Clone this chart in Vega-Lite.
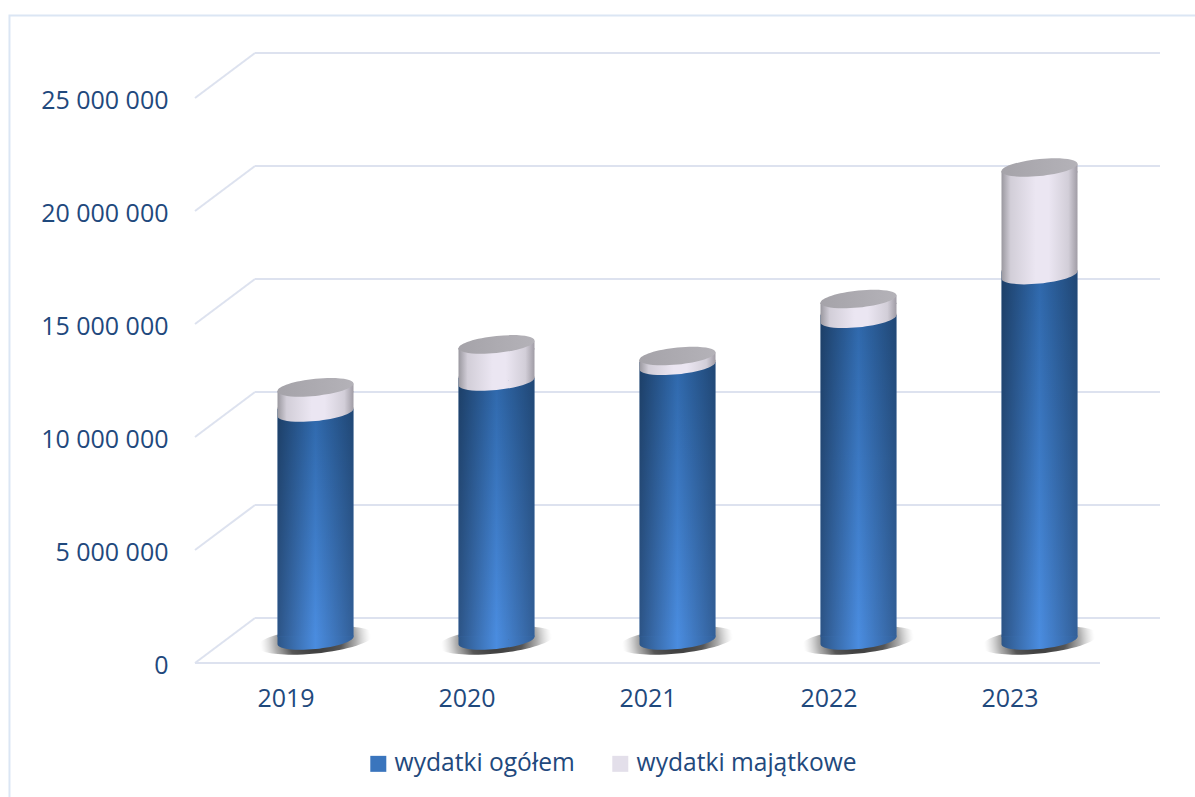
{"$schema":"https://vega.github.io/schema/vega-lite/v6.json","width":905,"height":565,"autosize":{"type":"none"},"padding":{"left":195,"top":98,"right":95,"bottom":134},"background":"white","config":{"view":{"stroke":null},"font":"Open Sans"},
"datasets":{"ticks":[{"v":0,"a":2018.5,"b":2023.5},{"v":5000000,"a":2018.5,"b":2023.5},{"v":10000000,"a":2018.5,"b":2023.5},{"v":15000000,"a":2018.5,"b":2023.5},{"v":20000000,"a":2018.5,"b":2023.5},{"v":25000000,"a":2018.5,"b":2023.5}],"frame":[{"k":1,"fx":2017.475,"fy":-5930000},{"k":2,"fx":2017.475,"fy":28650000},{"k":3,"fx":2024.03,"fy":28650000}]},
"data":{"values":[
{"year":2019,"series":"wydatki ogółem","value":10090000},{"year":2019,"series":"wydatki majątkowe","value":1110000},
{"year":2020,"series":"wydatki ogółem","value":11460000},{"year":2020,"series":"wydatki majątkowe","value":1640000},
{"year":2021,"series":"wydatki ogółem","value":12160000},{"year":2021,"series":"wydatki majątkowe","value":430000},
{"year":2022,"series":"wydatki ogółem","value":14240000},{"year":2022,"series":"wydatki majątkowe","value":870000},
{"year":2023,"series":"wydatki ogółem","value":16170000},{"year":2023,"series":"wydatki majątkowe","value":4760000}]},
"transform":[{"stack":"value","groupby":["year"],"sort":[{"field":"series","order":"descending"}],"as":["y0","y1"]}],
"encoding":{"x":{"field":"year","type":"quantitative","scale":{"domain":[2018.5,2023.5],"nice":false,"zero":false,"padding":0},"axis":{"values":[2019,2020,2021,2022,2023],"format":"d","title":null,"grid":false,"domain":false,"ticks":false,"labelFontSize":25,"labelColor":"#1f497d","labelPadding":23,"labelFont":"Open Sans"}}},
"layer":[
{"data":{"name":"frame"},"mark":{"type":"line","stroke":"#dbe6f4","strokeWidth":2},"encoding":{"x":{"field":"fx","type":"quantitative"},"y":{"field":"fy","type":"quantitative"},"order":{"field":"k"}}},
{"data":{"name":"ticks"},"mark":{"type":"rule","stroke":"#dde2ef","strokeWidth":2,"xOffset":60,"x2Offset":60,"yOffset":-45,"y2Offset":-45},"encoding":{"x":{"field":"a","type":"quantitative"},"x2":{"field":"b"},"y":{"field":"v","type":"quantitative","scale":{"domain":[0,25000000],"nice":false},"axis":{"values":[0,5000000,10000000,15000000,20000000,25000000],"title":null,"grid":false,"domain":false,"ticks":false,"labelFontSize":25,"labelColor":"#1f497d","labelPadding":27,"labelOffset":2,"labelFont":"Open Sans","labelExpr":"replace(format(datum.value,','),/,/g,' ')"}}}},
{"data":{"name":"ticks"},"mark":{"type":"rule","stroke":"#dde2ef","strokeWidth":2,"x2Offset":60,"y2Offset":-45},"encoding":{"x":{"field":"a","type":"quantitative"},"x2":{"field":"a"},"y":{"field":"v","type":"quantitative"},"y2":{"field":"v"}}},
{"data":{"name":"ticks"},"transform":[{"filter":"datum.v===0"}],"mark":{"type":"rule","stroke":"#dde2ef","strokeWidth":2},"encoding":{"x":{"field":"a","type":"quantitative"},"x2":{"field":"b"},"y":{"field":"v","type":"quantitative"}}},
{"transform":[{"filter":"datum.series==='wydatki ogółem'"}],"mark":{"type":"point","filled":true,"opacity":1,"xOffset":30,"yOffset":-22.5,"size":13456,"shape":"M-1,0.1C-1,-0.0237,-0.5523,-0.1688,0,-0.224C0.5523,-0.2792,1,-0.2237,1,-0.1C1,0.0237,0.5523,0.1688,0,0.224C-0.5523,0.2792,-1,0.2237,-1,0.1Z","fill":{"gradient":"radial","x1":0.5,"y1":0.5,"x2":0.5,"y2":0.5,"r1":0,"r2":0.5,"stops":[{"offset":0,"color":"#333333"},{"offset":0.45,"color":"#555555"},{"offset":0.7,"color":"rgba(110,110,110,0.55)"},{"offset":0.95,"color":"rgba(170,170,170,0)"}]}},"encoding":{"y":{"datum":0,"type":"quantitative"}}},
{"mark":{"type":"bar","width":60,"xOffset":30,"yOffset":-26.3,"y2Offset":-18.7},"encoding":{"y":{"field":"y0","type":"quantitative"},"y2":{"field":"y1"},"color":{"field":"series","type":"nominal","scale":{"domain":["wydatki ogółem","wydatki majątkowe"],"range":["#3a75bd","#e3dfea"]},"legend":{"title":null,"orient":"none","legendX":171,"legendY":653.5,"direction":"horizontal","columns":2,"symbolType":"square","symbolSize":256,"symbolStrokeWidth":0,"labelFontSize":24.6,"labelColor":"#1f497d","labelFont":"Open Sans","labelLimit":400,"columnPadding":33,"labelOffset":4}}}},
{"transform":[{"filter":"datum.series==='wydatki ogółem'"}],"mark":{"type":"point","filled":true,"opacity":1,"xOffset":30,"yOffset":-22.5,"size":5776,"shape":"M-1,0.1C-1,-0.0237,-0.5523,-0.1688,0,-0.224C0.5523,-0.2792,1,-0.2237,1,-0.1C1,0.0237,0.5523,0.1688,0,0.224C-0.5523,0.2792,-1,0.2237,-1,0.1ZM-1,-0.13L1,-0.13L1,-0.1L-1,0.1Z","fill":{"gradient":"linear","x1":0,"y1":0,"x2":1,"y2":0,"stops":[{"offset":0,"color":"#2d5688"},{"offset":0.5,"color":"#4a8cdf"},{"offset":1,"color":"#32609a"}]}},"encoding":{"y":{"field":"y0","type":"quantitative"}}},
{"transform":[{"filter":"datum.series==='wydatki ogółem'"}],"mark":{"type":"bar","width":76,"xOffset":30,"yOffset":-26.3,"y2Offset":-26.3,"fill":{"gradient":"linear","x1":0,"y1":0,"x2":0,"y2":1,"stops":[{"offset":0,"color":"#2f68ab"},{"offset":1,"color":"#4a8cdf"}]}},"encoding":{"y":{"field":"y0","type":"quantitative"},"y2":{"field":"y1"}}},
{"transform":[{"filter":"datum.series==='wydatki ogółem'"}],"mark":{"type":"bar","width":76,"xOffset":30,"yOffset":-26.3,"y2Offset":-26.3,"fill":{"gradient":"linear","x1":0,"y1":0,"x2":1,"y2":0,"stops":[{"offset":0,"color":"rgba(0,0,0,0.4)"},{"offset":0.5,"color":"rgba(0,0,0,0)"},{"offset":1,"color":"rgba(0,0,0,0.32)"}]}},"encoding":{"y":{"field":"y0","type":"quantitative"},"y2":{"field":"y1"}}},
{"transform":[{"filter":"datum.series==='wydatki majątkowe'"}],"mark":{"type":"point","filled":true,"opacity":1,"xOffset":30,"yOffset":-22.5,"size":5776,"shape":"M-1,0.1C-1,-0.0237,-0.5523,-0.1688,0,-0.224C0.5523,-0.2792,1,-0.2237,1,-0.1C1,0.0237,0.5523,0.1688,0,0.224C-0.5523,0.2792,-1,0.2237,-1,0.1ZM-1,-0.13L1,-0.13L1,-0.1L-1,0.1Z","fill":{"gradient":"linear","x1":0,"y1":0,"x2":1,"y2":0,"stops":[{"offset":0,"color":"#9a989f"},{"offset":0.12,"color":"#d2ced8"},{"offset":0.45,"color":"#ebe6f2"},{"offset":0.62,"color":"#ebe6f2"},{"offset":0.88,"color":"#d2ced8"},{"offset":1,"color":"#a09ca5"}]}},"encoding":{"y":{"field":"y0","type":"quantitative"}}},
{"transform":[{"filter":"datum.series==='wydatki majątkowe'"}],"mark":{"type":"bar","width":76,"xOffset":30,"yOffset":-26.3,"y2Offset":-18.7,"fill":{"gradient":"linear","x1":0,"y1":0,"x2":1,"y2":0,"stops":[{"offset":0,"color":"#9a989f"},{"offset":0.12,"color":"#d2ced8"},{"offset":0.45,"color":"#ebe6f2"},{"offset":0.62,"color":"#ebe6f2"},{"offset":0.88,"color":"#d2ced8"},{"offset":1,"color":"#a09ca5"}]}},"encoding":{"y":{"field":"y0","type":"quantitative"},"y2":{"field":"y1"}}},
{"transform":[{"filter":"datum.series==='wydatki majątkowe'"}],"mark":{"type":"point","filled":true,"opacity":1,"xOffset":30,"yOffset":-22.5,"size":5776,"shape":"M-1,0.1L1,-0.1L1,0.13L-1,0.13Z","fill":{"gradient":"linear","x1":0,"y1":0,"x2":1,"y2":0,"stops":[{"offset":0,"color":"#9a989f"},{"offset":0.12,"color":"#d2ced8"},{"offset":0.45,"color":"#ebe6f2"},{"offset":0.62,"color":"#ebe6f2"},{"offset":0.88,"color":"#d2ced8"},{"offset":1,"color":"#a09ca5"}]}},"encoding":{"y":{"field":"y1","type":"quantitative"}}},
{"transform":[{"filter":"datum.series==='wydatki majątkowe'"}],"mark":{"type":"point","filled":true,"opacity":1,"xOffset":30,"yOffset":-22.5,"size":5776,"shape":"M-1,0.1C-1,-0.0237,-0.5523,-0.1688,0,-0.224C0.5523,-0.2792,1,-0.2237,1,-0.1C1,0.0237,0.5523,0.1688,0,0.224C-0.5523,0.2792,-1,0.2237,-1,0.1Z","fill":{"gradient":"linear","x1":0,"y1":0,"x2":1,"y2":0,"stops":[{"offset":0,"color":"#a5a3a9"},{"offset":1,"color":"#b4b2b8"}]}},"encoding":{"y":{"field":"y1","type":"quantitative"}}}
]}
